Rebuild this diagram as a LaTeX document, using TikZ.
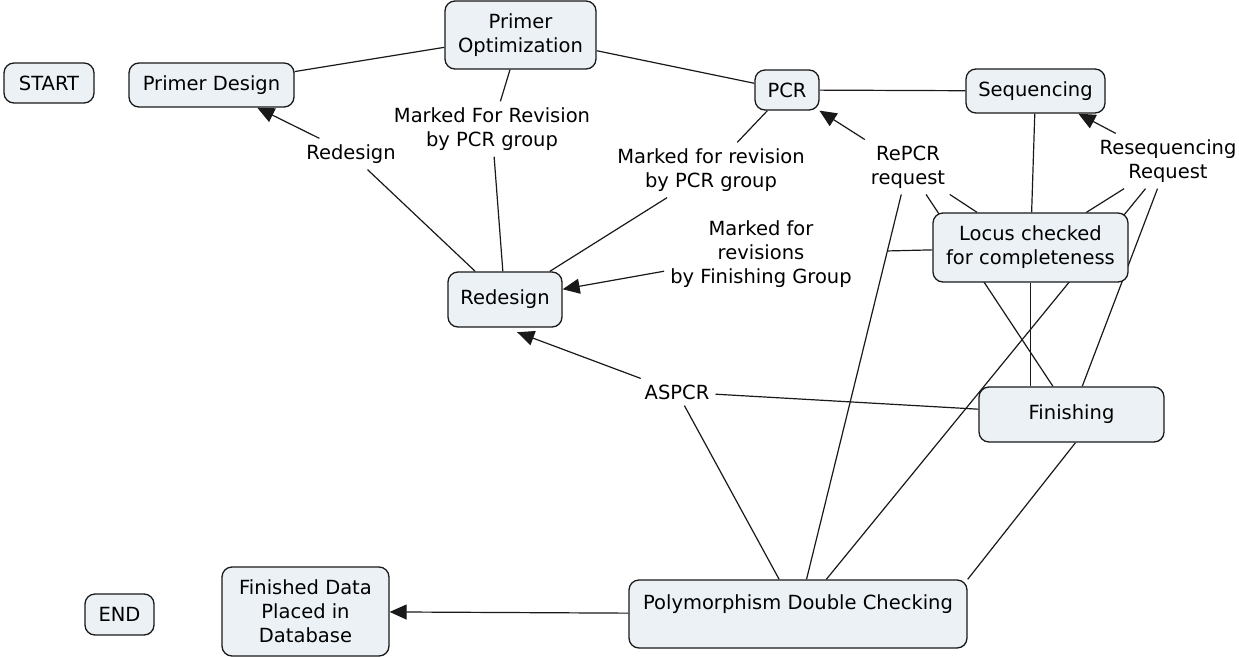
\documentclass[tikz,border=0pt]{standalone}
\usepackage{fontspec}
\setmainfont{DejaVu Sans}
\usetikzlibrary{arrows.meta,backgrounds,calc}
\definecolor{cfill}{RGB}{236,241,246}
\definecolor{cline}{RGB}{25,25,25}
\begin{document}
\begin{tikzpicture}[x=1pt,y=-1pt,
  font=\fontsize{19.5}{24}\selectfont,
  concept/.style={draw=cline, line width=1.3pt, fill=cfill, rounded corners=10pt, align=center, inner sep=0pt},
  phrase/.style={align=center, inner xsep=6pt, inner ysep=6pt},
  link/.style={line width=1.2pt, draw=cline},
  arr/.style={link, -{Triangle[length=17pt,width=15pt]}}]
\useasboundingbox (0,0) rectangle (1239,656);

% concepts
\node[concept, minimum width=90pt, minimum height=40pt] (start) at (49,83) {START};
\node[concept, minimum width=165pt, minimum height=44pt] (pd) at (211.5,85) {Primer Design};
\node[concept, minimum width=151pt, minimum height=68pt] (po) at (520.5,35) {Primer\\Optimization};
\node[concept, minimum width=64pt, minimum height=40pt] (pcr) at (787,90) {PCR};
\node[concept, minimum width=139pt, minimum height=44pt] (seq) at (1035.5,91) {Sequencing};
\node[concept, minimum width=195pt, minimum height=69pt] (locus) at (1030.5,247.5) {Locus checked\\for completeness};
\node[concept, minimum width=114pt, minimum height=55pt] (redes) at (505,299.5) {Redesign};
\node[concept, minimum width=185pt, minimum height=55pt] (fin) at (1071.5,414.5) {Finishing};
\node[concept, minimum width=338pt, minimum height=68pt] (poly) at (798,614) {Polymorphism Double Checking\\\mbox{}};
\node[concept, minimum width=167pt, minimum height=89pt] (fdb) at (305.5,611.5) {Finished Data\\Placed in\\Database};
\node[concept, minimum width=69pt, minimum height=41pt] (endn) at (119.5,614.5) {END};

% linking phrases
\node[phrase] (l1) at (351,154) {Redesign};
\node[phrase] (l2) at (492,129) {Marked For Revision\\by PCR group};
\node[phrase] (l3) at (711,170) {Marked for revision\\by PCR group};
\node[phrase] (l4) at (761,254) {Marked for\\revisions\\by Finishing Group};
\node[phrase] (l5) at (908,167) {RePCR\\request};
\node[phrase] (l6) at (1168,161) {Resequencing\\Request};
\node[phrase] (l7) at (677,392) {ASPCR};

\begin{scope}[on background layer]
\draw[link] (redes) -- (l1);
\draw[arr] (l1) -- (pd);
\draw[link] (pd) -- (po);
\draw[link] (po) -- (pcr);
\draw[link] (pcr) -- (seq);
\draw[link] (po) -- (l2);
\draw[link] (l2) -- (redes);
\draw[link] (pcr) -- (l3);
\draw[link] (l3) -- (redes);
\draw[link, shorten >=30pt] (locus) -- (l4);
\draw[arr] (l4) -- (redes);
\draw[link] (locus) -- (l5);
\draw[arr] (l5) -- (pcr);
\draw[link] (fin) -- (l5);
\draw[link] (poly) -- (l5);
\draw[link] (locus) -- (l6);
\draw[arr] (l6) -- (seq);
\draw[link] (fin) -- (l6);
\draw[link] (poly) -- (l6);
\draw[link] (seq) -- (locus);
\draw[link] (locus.south) -- (locus.south |- fin.north);
\draw[link] (fin) -- (l7);
\draw[arr, shorten >=13pt] (l7) -- (redes.south);
\draw[link] (poly) -- (l7);
\draw[link] ($(fin.south)+(4,0)$) -- (poly.north east);
\draw[arr] (poly) -- (fdb);
\end{scope}
\end{tikzpicture}
\end{document}
